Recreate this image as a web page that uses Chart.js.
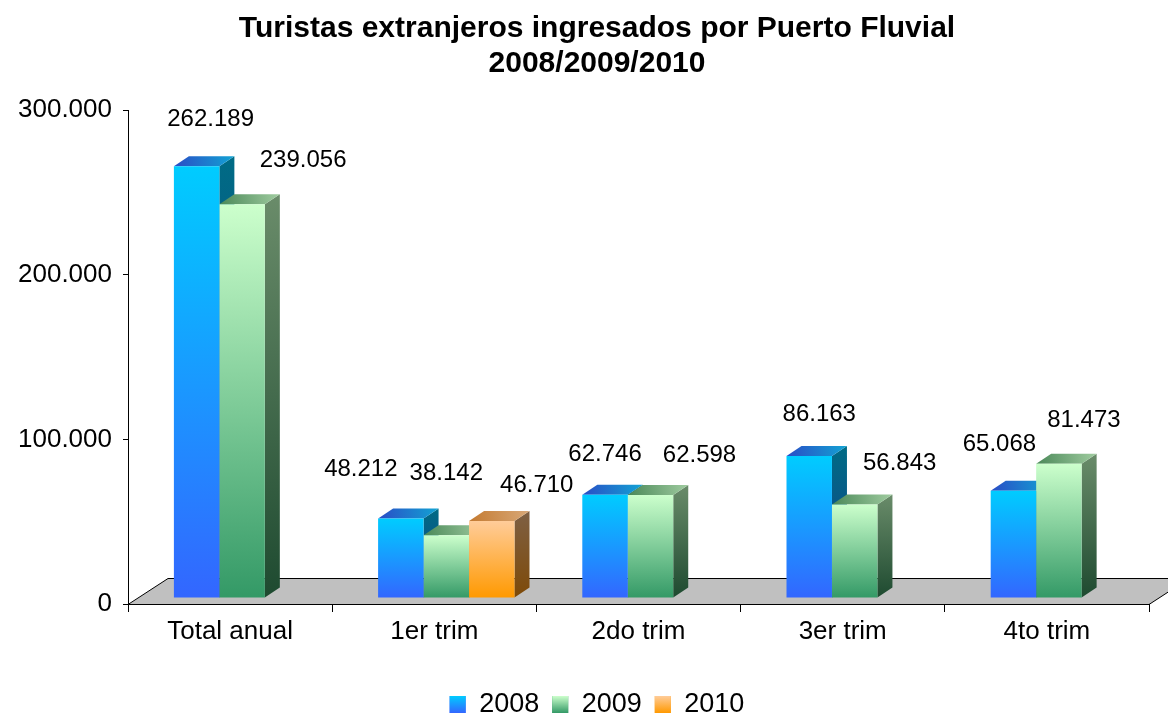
<!DOCTYPE html>
<html>
<head>
<meta charset="utf-8">
<title>Turistas extranjeros ingresados por Puerto Fluvial</title>
<script src="https://cdn.jsdelivr.net/npm/chart.js@4/dist/chart.umd.min.js"></script>
<style>
  html, body { margin: 0; padding: 0; background: #fff; }
</style>
</head>
<body>
<canvas id="chart" width="1168" height="720"></canvas>
<script>
const categories = ["Total anual", "1er trim", "2do trim", "3er trim", "4to trim"];
const years = ["2008", "2009", "2010"];
const turistas2008 = [262189, 48212, 62746, 86163, 65068];
const turistas2009 = [239056, 38142, 62598, 56843, 81473];
const turistas2010 = [null, 46710, null, null, null];
const yTicks = [0, 100000, 200000, 300000];

const series = [turistas2008, turistas2009, turistas2010];

// where each value label sits, measured from the top centre of its bar
const labelNudge = [
  [[14, -47], [-40, -49], [0, -40], [10, -42], [-14, -46]],
  [[61, -44], [0, -62], [49, -40], [45, -41], [25, -43]],
  [null, [45, -36], null, null, null]
];

const faces = [
  { front: ["#00CCFF", "#3366FF"], side: ["#006B85", "#143C8C"], top: ["#2A4CC6", "#12A4D4"] },
  { front: ["#CCFFCC", "#339966"], side: ["#6A8C6A", "#1E4A30"], top: ["#4A8858", "#A0CCA0"] },
  { front: ["#FFCC99", "#FF9900"], side: ["#7E6044", "#7E4A08"], top: ["#C47A30", "#D8A878"] }
];

const DEPTH_X = 15, DEPTH_Y = 10;   // bar depth
const FLOOR_X = 40, FLOOR_Y = 26;   // floor depth
const SHIFT_X = 12, SHIFT_Y = -6;   // bars stand a bit behind the front edge of the floor

const FONT = '"Liberation Sans", Arial, sans-serif';

function fmt(v) {
  return String(v).replace(/\B(?=(\d{3})+(?!\d))/g, ".");
}

function frontFill(c) {
  const chart = c.chart;
  const face = faces[c.datasetIndex];
  if (!chart.chartArea || c.raw == null) return face.front[1];
  const y = chart.scales.y;
  const g = chart.ctx.createLinearGradient(0, y.getPixelForValue(c.raw), 0, y.getPixelForValue(0));
  g.addColorStop(0, face.front[0]);
  g.addColorStop(1, face.front[1]);
  return g;
}

// grey floor under the bars
const floor3d = {
  id: "floor3d",
  afterLayout(chart) {
    // let the long y labels run past the left padding instead of being clipped
    chart.scales.y.left = 0;
  },
  beforeDraw(chart) {
    const { ctx, scales: { x, y } } = chart;
    const y0 = Math.round(y.getPixelForValue(0)) + 0.5;
    ctx.save();
    ctx.beginPath();
    ctx.moveTo(x.left, y0);
    ctx.lineTo(x.right, y0);
    ctx.lineTo(x.right + FLOOR_X, y0 - FLOOR_Y);
    ctx.lineTo(x.left + FLOOR_X, y0 - FLOOR_Y);
    ctx.closePath();
    ctx.fillStyle = "#C0C0C0";
    ctx.fill();
    ctx.strokeStyle = "#000";
    ctx.lineWidth = 1;
    ctx.stroke();
    ctx.restore();
  }
};

// side and top faces, value labels, legend swatches
const bars3d = {
  id: "bars3d",
  beforeDatasetsDraw(chart) {
    const ctx = chart.ctx;
    ctx.save();
    ctx.translate(SHIFT_X, SHIFT_Y);
    chart.data.datasets.forEach((ds, di) => {
      const face = faces[di];
      chart.getDatasetMeta(di).data.forEach((bar, i) => {
        if (ds.data[i] == null) return;
        const { x, y, base, width } = bar.getProps(["x", "y", "base", "width"], true);
        const x0 = x - width / 2, x1 = x + width / 2;

        let g = ctx.createLinearGradient(0, y - DEPTH_Y, 0, base);
        g.addColorStop(0, face.side[0]);
        g.addColorStop(1, face.side[1]);
        ctx.fillStyle = g;
        ctx.beginPath();
        ctx.moveTo(x1, y);
        ctx.lineTo(x1 + DEPTH_X, y - DEPTH_Y);
        ctx.lineTo(x1 + DEPTH_X, base - DEPTH_Y);
        ctx.lineTo(x1, base);
        ctx.closePath();
        ctx.fill();

        g = ctx.createLinearGradient(x0, y, x1 + DEPTH_X, y - DEPTH_Y);
        g.addColorStop(0, face.top[0]);
        g.addColorStop(1, face.top[1]);
        ctx.fillStyle = g;
        ctx.beginPath();
        ctx.moveTo(x0, y);
        ctx.lineTo(x1, y);
        ctx.lineTo(x1 + DEPTH_X, y - DEPTH_Y);
        ctx.lineTo(x0 + DEPTH_X, y - DEPTH_Y);
        ctx.closePath();
        ctx.fill();
      });
    });
  },
  afterDatasetsDraw(chart) {
    const ctx = chart.ctx;
    ctx.restore();
    ctx.save();
    ctx.font = "24px " + FONT;
    ctx.fillStyle = "#000";
    ctx.textAlign = "center";
    ctx.textBaseline = "middle";
    chart.data.datasets.forEach((ds, di) => {
      chart.getDatasetMeta(di).data.forEach((bar, i) => {
        const v = ds.data[i];
        const n = labelNudge[di][i];
        if (v == null || !n) return;
        const { x, y } = bar.getProps(["x", "y"], true);
        ctx.fillText(fmt(v), x + SHIFT_X + n[0], y + SHIFT_Y + n[1]);
      });
    });
    ctx.restore();
  },
  afterDraw(chart) {
    const ctx = chart.ctx;
    const opts = chart.options.plugins.legend.labels;
    const fs = opts.font.size, bw = opts.boxWidth, bh = opts.boxHeight;
    ctx.save();
    chart.legend.legendHitBoxes.forEach((b, i) => {
      const top = b.top + Math.max((fs - bh) / 2, 0);
      const g = ctx.createLinearGradient(0, top, 0, top + bh);
      g.addColorStop(0, faces[i].front[0]);
      g.addColorStop(1, faces[i].front[1]);
      ctx.fillStyle = g;
      ctx.fillRect(b.left, top, bw, bh);
    });
    ctx.restore();
  }
};

Chart.defaults.font.family = FONT;
Chart.defaults.color = "#000";

new Chart(document.getElementById("chart"), {
  type: "bar",
  data: {
    labels: categories,
    datasets: years.map((yr, i) => ({
      label: yr,
      data: series[i],
      backgroundColor: frontFill,
      borderWidth: 0,
      categoryPercentage: 0.668,
      barPercentage: 1,
      clip: false
    }))
  },
  options: {
    responsive: false,
    animation: false,
    devicePixelRatio: 1,
    layout: { padding: { left: 45, right: 19, top: 0, bottom: -8 } },
    plugins: {
      title: {
        display: true,
        text: ["Turistas extranjeros ingresados por Puerto Fluvial", "2008/2009/2010"],
        color: "#000",
        font: { size: 30, weight: "bold", lineHeight: 1.1667 },
        padding: { top: 11.5, bottom: 28.5 }
      },
      legend: {
        position: "bottom",
        labels: {
          boxWidth: 16,
          boxHeight: 17,
          padding: 13,
          color: "#000",
          font: { size: 27 },
          generateLabels(chart) {
            return chart.data.datasets.map((ds, i) => ({
              text: ds.label,
              fillStyle: faces[i].front[1],
              strokeStyle: "rgba(0,0,0,0)",
              lineWidth: 0,
              hidden: false,
              datasetIndex: i
            }));
          }
        }
      },
      tooltip: { enabled: false }
    },
    scales: {
      x: {
        grid: { drawOnChartArea: false, drawTicks: true, tickLength: 8, color: "#000", offset: true },
        border: { display: true, color: "#000" },
        ticks: { font: { size: 26 }, color: "#000", padding: 4, maxRotation: 0 },
        afterFit(scale) { scale.height = 74; }
      },
      y: {
        min: 0,
        max: 300000,
        afterBuildTicks(scale) { scale.ticks = yTicks.map(v => ({ value: v })); },
        grid: { drawOnChartArea: false, tickLength: 5, color: "#000" },
        border: { display: true, color: "#000" },
        ticks: { font: { size: 26 }, color: "#000", padding: 11, callback: v => fmt(v) },
        afterFit(scale) { scale.width = 83; }
      }
    }
  },
  plugins: [floor3d, bars3d]
});
</script>
</body>
</html>
